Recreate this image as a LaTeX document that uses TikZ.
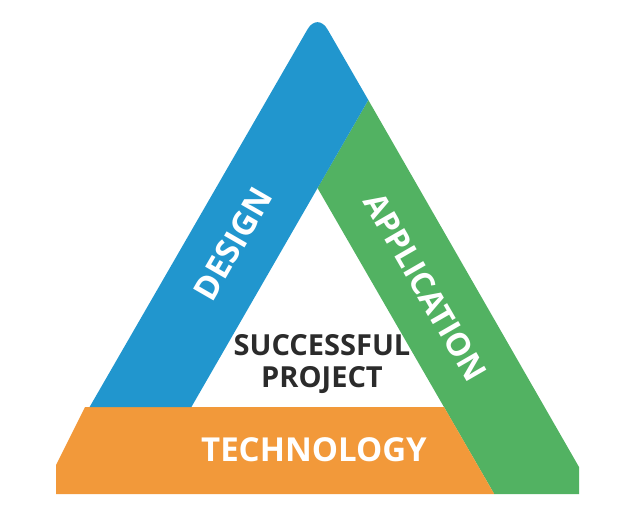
\documentclass[tikz,border=0pt]{standalone}
\usepackage{fontspec}
\setmainfont{Open Sans}
\usepackage{tikz}
\usepackage{xcolor}

\definecolor{designblue}{RGB}{33,150,206}
\definecolor{appgreen}{RGB}{82,178,98}
\definecolor{techorange}{RGB}{242,153,58}
\definecolor{textgrey}{RGB}{43,43,43}

\begin{document}
\begin{tikzpicture}[x=1pt,y=-1pt,
  bandtext/.style={text=white,font=\bfseries\fontsize{33}{33}\selectfont,inner sep=0pt},
  centertext/.style={text=textgrey,font=\bfseries\fontsize{29}{32}\selectfont,align=center,inner sep=0pt}]
\useasboundingbox (0,0) rectangle (641,530);

% Corners of the two triangles
\coordinate (apex) at (317.5,12);
\coordinate (inapex) at (317.5,188);
\coordinate (inleft) at (191.4,407);
\coordinate (inright) at (444,407);
\coordinate (meet) at (368.3,100);

% Application band
\fill[appgreen] (inapex) -- (meet) -- (579,467) -- (579,494) -- (494.2,494) -- cycle;

% Technology band
\fill[techorange] (85,407) -- (inright) -- (494.2,494) -- (56,494) -- (56,465) -- cycle;

% Design band
\fill[designblue] (meet) [rounded corners=20pt] -- (apex) [sharp corners] -- (89.6,407) -- (inleft) -- cycle;

% Labels
\node[bandtext,rotate=60] (design) at (233,244) {DESIGN};
\node[bandtext,rotate=-60,font=\bfseries\fontsize{32}{32}\selectfont] (application) at (425,287) {APPLICATION};
\node[bandtext] (technology) at (314,450) {TECHNOLOGY};
\node[centertext] (project) at (322,364) {SUCCESSFUL\\PROJECT};
\end{tikzpicture}
\end{document}
